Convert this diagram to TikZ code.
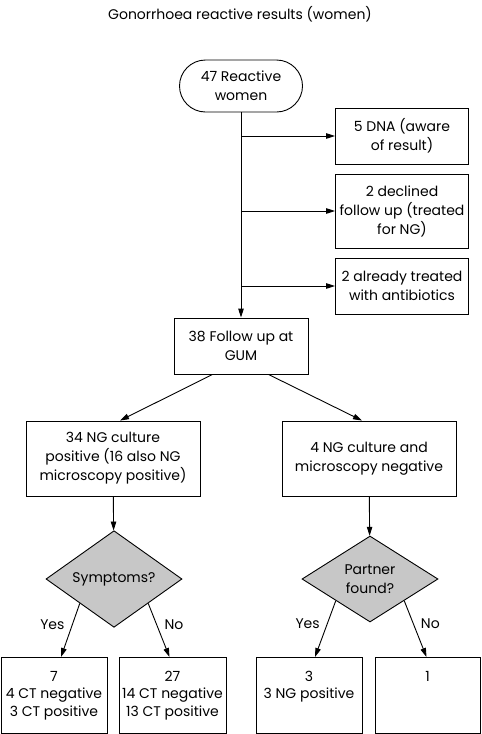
\documentclass[tikz,border=0pt]{standalone}
\usepackage{fontspec}
\setmainfont{Poppins}
\usetikzlibrary{shapes.geometric,arrows.meta}

\begin{document}
\begin{tikzpicture}[x=1pt,y=-1pt,
  every node/.style={font=\fontsize{14}{19}\selectfont},
  arr/.style={draw,line width=0.9pt,-{Triangle[length=9pt,width=5.5pt]}},
  box/.style={draw,line width=0.9pt,align=center,inner sep=2pt},
  question/.style={draw,diamond,line width=0.9pt,fill=black!22,align=center,
    minimum width=136pt,minimum height=86pt,inner sep=0pt},
  outcome/.style={draw,line width=0.9pt,anchor=north,inner sep=0pt,
    font=\fontsize{14}{17.5}\selectfont}
  ]
  \useasboundingbox (0,0) rectangle (482,734);

  \node (title) at (240,14) {Gonorrhoea reactive results (women)};

  \node[box,rounded corners=26pt,minimum width=123pt,minimum height=52pt] (react) at (241,86) {47 Reactive\\women};
  \node[box,minimum width=133pt,minimum height=56pt] (dna) at (402,136) {5 DNA (aware\\of result)};
  \node[box,minimum width=133pt,minimum height=74pt] (declined) at (402,211) {2 declined\\follow up (treated\\for NG)};
  \node[box,minimum width=133pt,minimum height=56pt] (treated) at (402,286) {2 already treated\\with antibiotics};
  \node[box,minimum width=134pt,minimum height=56pt] (gum) at (241,346) {38 Follow up at\\GUM};

  \node[box,minimum width=174pt,minimum height=75pt] (pos) at (113,458.5) {34 NG culture\\positive (16 also NG\\microscopy positive)};
  \node[box,minimum width=174pt,minimum height=75pt] (neg) at (369,458.5) {4 NG culture and\\microscopy negative};

  \node[question] (symptoms) at (114,579) {Symptoms?};
  \node[question] (partner) at (370,579) {Partner\\found?};

  \node[outcome] (yes1) at (54,657) {\parbox[c][76pt][t]{106pt}{\centering\rule{0pt}{24pt}7\\4 CT negative\\3 CT positive}};
  \node[outcome] (no1) at (172.5,657) {\parbox[c][76pt][t]{107pt}{\centering\rule{0pt}{24pt}27\\14 CT negative\\13 CT positive}};
  \node[outcome] (yes2) at (309,657) {\parbox[c][76pt][t]{106pt}{\centering\rule{0pt}{24pt}3\\3 NG positive}};
  \node[outcome] (no2) at (427.5,657) {\parbox[c][76pt][t]{105pt}{\centering\rule{0pt}{24pt}1}};

  \draw[arr] (react) -- (gum);
  \draw[arr] (react |- dna.west) -- (dna.west);
  \draw[arr] (react |- declined.west) -- (declined.west);
  \draw[arr] (react |- treated.west) -- (treated.west);

  \draw[arr] ([xshift=39pt]gum.south west) -- ([xshift=7pt]pos.north);
  \draw[arr] ([xshift=-40pt]gum.south east) -- ([xshift=-7pt]neg.north);

  \draw[arr] (pos) -- (symptoms);
  \draw[arr] (neg) -- (partner);

  \draw[arr] (symptoms.south west) -- node[pos=0.4,left=4pt] {Yes} ([xshift=7pt]yes1.north);
  \draw[arr] (symptoms.south east) -- node[pos=0.4,right=4pt] {No} ([xshift=-3pt]no1.north);
  \draw[arr] (partner.south west) -- node[pos=0.4,left=4pt] {Yes} ([xshift=6pt]yes2.north);
  \draw[arr] (partner.south east) -- node[pos=0.4,right=4pt] {No} ([xshift=-1pt]no2.north);
\end{tikzpicture}
\end{document}
